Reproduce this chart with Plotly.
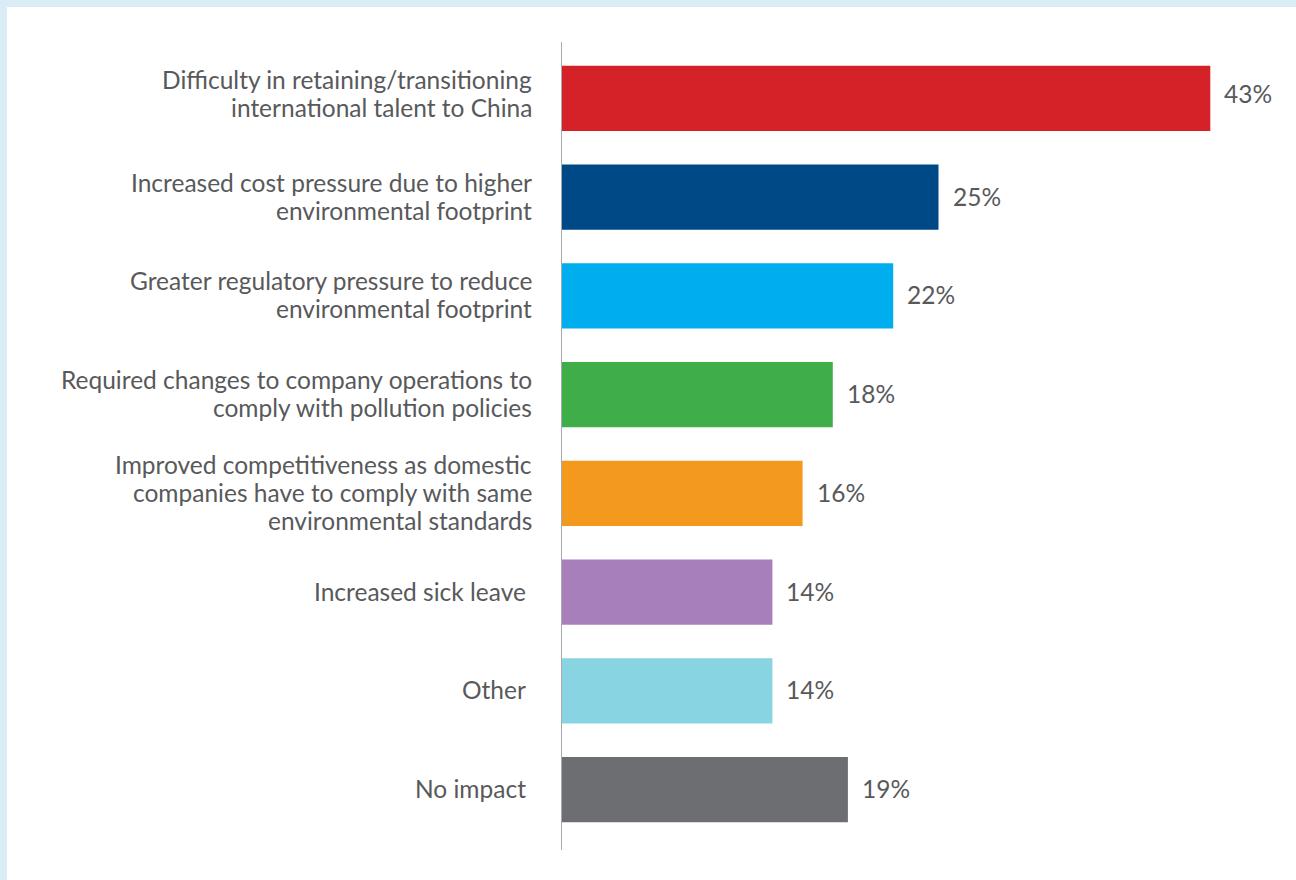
import plotly.graph_objects as go

# Survey categories (top to bottom) and share of respondents (%)
categories = [
    "Difficulty in retaining/transitioning<br>international talent to China",
    "Increased cost pressure due to higher<br>environmental footprint",
    "Greater regulatory pressure to reduce<br>environmental footprint",
    "Required changes to company operations to<br>comply with pollution policies",
    "Improved competitiveness as domestic<br>companies have to comply with same<br>environmental standards",
    "Increased sick leave\u00a0",
    "Other\u00a0",
    "No impact\u00a0",
]
values = [43, 25, 22, 18, 16, 14, 14, 19]
bar_colors = ["#D52229", "#004987", "#00AEEF", "#3FAE49",
              "#F39A1E", "#A77FBA", "#89D4E3", "#6D6E71"]

W, H = 1296, 880
ML, MR, MT, MB = 561, 10, 49, 41
PW, PH = W - ML - MR, H - MT - MB
TEXT = "#58595B"
FONT = "Lato"
FS = 24.5
LINE_GAP = 28  # px between wrapped label lines

idx = list(range(len(categories)))

fig = go.Figure(go.Bar(
    x=values, y=idx, orientation="h",
    marker=dict(color=bar_colors, line=dict(width=0)),
    width=0.66, hoverinfo="skip",
))

annotations = []
for i, (cat, v) in enumerate(zip(categories, values)):
    lift = 5 if i == 0 else 1
    lines = cat.split("<br>")
    n = len(lines)
    for k, line in enumerate(lines):
        annotations.append(dict(
            x=0, y=i, xref="x", yref="y", text=line, showarrow=False,
            xanchor="right", yanchor="middle", align="right",
            xshift=-27, yshift=lift - (k - (n - 1) / 2) * LINE_GAP,
            font=dict(family=FONT, size=FS, color=TEXT),
        ))
    annotations.append(dict(
        x=v, y=i, xref="x", yref="y", text=f"{v}%", showarrow=False,
        xanchor="left", yanchor="middle", xshift=12, yshift=lift,
        font=dict(family=FONT, size=FS, color=TEXT),
    ))

def px_x(p):
    return (p - ML) / PW

def px_y(p):
    return (H - MB - p) / PH

shapes = [
    # light blue frame strips along the top and left edges
    dict(type="rect", xref="paper", yref="paper", x0=px_x(0), x1=px_x(W),
         y0=px_y(7), y1=px_y(0), fillcolor="#DAECF6", line=dict(width=0), layer="below"),
    dict(type="rect", xref="paper", yref="paper", x0=px_x(0), x1=px_x(7),
         y0=px_y(H), y1=px_y(0), fillcolor="#DAECF6", line=dict(width=0), layer="below"),
    # vertical baseline
    dict(type="line", xref="x", yref="paper", x0=0, x1=0,
         y0=px_y(850), y1=px_y(42), line=dict(color="#A7A9AC", width=2)),
]

fig.update_layout(
    width=W, height=H,
    margin=dict(l=ML, r=MR, t=MT, b=MB, pad=0),
    paper_bgcolor="white", plot_bgcolor="white",
    showlegend=False,
    xaxis=dict(range=[0, PW / 15.1], visible=False, fixedrange=True),
    yaxis=dict(range=[len(categories) - 0.5, -0.5], visible=False, fixedrange=True),
    annotations=annotations, shapes=shapes,
)

fig.write_html("out.html")
